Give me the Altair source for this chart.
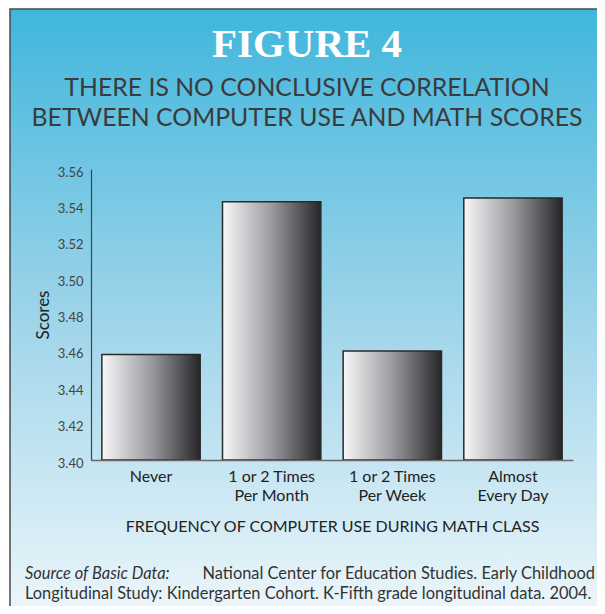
import altair as alt
import pandas as pd

# ---- data ----
categories = ["Never", "1 or 2 Times\nPer Month", "1 or 2 Times\nPer Week", "Almost\nEvery Day"]
scores = [3.458, 3.542, 3.460, 3.544]
y_ticks = [3.40, 3.42, 3.44, 3.46, 3.48, 3.50, 3.52, 3.54, 3.56]
y_domain = [3.40, 3.56]

title_text = "FIGURE 4"
subtitle_lines = ["THERE IS NO CONCLUSIVE CORRELATION", "BETWEEN COMPUTER USE AND MATH SCORES"]
x_title = "FREQUENCY OF COMPUTER USE DURING MATH CLASS"
y_title = "Scores"
source_italic = "Source of Basic Data:"
source_line1 = "National Center for Education Studies. Early Childhood"
source_line2 = "Longitudinal Study: Kindergarten Cohort. K-Fifth grade longitudinal data. 2004."

df = pd.DataFrame({"category": categories, "score": scores})
one = pd.DataFrame({"a": [0]})

SANS = "Lato"
W, H = 482, 291

bg_grad = alt.LinearGradient(
    gradient="linear", x1=0, y1=0, x2=0, y2=1,
    stops=[alt.GradientStop(offset=0, color="#40b6dc"),
           alt.GradientStop(offset=0.5, color="#a0d5ea"),
           alt.GradientStop(offset=1, color="#f3f9fc")])

bar_grad = alt.LinearGradient(
    gradient="linear", x1=0, y1=0, x2=1, y2=0,
    stops=[alt.GradientStop(offset=0, color="#f8f8f9"),
           alt.GradientStop(offset=0.5, color="#9a9ba0"),
           alt.GradientStop(offset=1, color="#262628")])

background = alt.Chart(one).mark_rect(fill=bg_grad, stroke="#4a4a4a", strokeWidth=1.5).encode(
    x=alt.value(-81), x2=alt.value(530), y=alt.value(-160), y2=alt.value(470))

bars = alt.Chart(df).mark_bar(fill=bar_grad, stroke="#2a2a2a", strokeWidth=1.5).encode(
    x=alt.X("category:N", sort=categories,
            scale=alt.Scale(paddingInner=0.185, paddingOuter=0.09),
            axis=alt.Axis(title=x_title, labelExpr="split(datum.label, '\\n')",
                          labelAngle=0, labelFont=SANS, labelFontSize=16, labelColor="#222222",
                          labelLineHeight=19.5, labelPadding=8, ticks=False,
                          domainColor="#6a6a6a", domainWidth=1.5,
                          titleFont=SANS, titleFontSize=16, titleFontWeight="normal",
                          titleColor="#222222", titlePadding=15, zindex=1)),
    y=alt.Y("score:Q", scale=alt.Scale(domain=y_domain, zero=False, nice=False),
            axis=alt.Axis(values=y_ticks, format=".2f", title=y_title, grid=False, ticks=False,
                          labelFont=SANS, labelFontSize=13, labelColor="#444444",
                          labelPadding=8, labelOffset=3,
                          domainColor="#444444", domainWidth=1.2,
                          titleFont=SANS, titleFontSize=17, titleFontWeight="normal",
                          titleColor="#222222", titlePadding=5, zindex=1)),
    y2=alt.datum(3.40),
)

title = alt.Chart(one).mark_text(text=title_text, font="Liberation Serif", fontWeight="bold",
                                 fontSize=41, color="white", baseline="middle", align="center").encode(
    x=alt.value(216), y=alt.value(-124))

sub1 = alt.Chart(one).mark_text(text=subtitle_lines[0], font=SANS, fontSize=24.8, color="#3b3b3b",
                                baseline="middle", align="center").encode(
    x=alt.value(216), y=alt.value(-80))
sub2 = alt.Chart(one).mark_text(text=subtitle_lines[1], font=SANS, fontSize=24.8, color="#3b3b3b",
                                baseline="middle", align="center").encode(
    x=alt.value(216), y=alt.value(-50))

src_i = alt.Chart(one).mark_text(text=source_italic, font=SANS, fontSize=16.4, fontStyle="italic",
                                 color="#333333", baseline="alphabetic", align="left").encode(
    x=alt.value(-66), y=alt.value(410))
src_1 = alt.Chart(one).mark_text(text=source_line1, font=SANS, fontSize=16.4,
                                 color="#333333", baseline="alphabetic", align="right").encode(
    x=alt.value(504), y=alt.value(410))
src_2 = alt.Chart(one).mark_text(text=source_line2, font=SANS, fontSize=16.4,
                                 color="#333333", baseline="alphabetic", align="left").encode(
    x=alt.value(-66), y=alt.value(430))

chart = alt.layer(background, bars, title, sub1, sub2, src_i, src_1, src_2).properties(
    width=W, height=H, autosize="none",
    padding={"left": 83, "top": 161, "right": 24, "bottom": 146},
).configure_view(stroke=None).configure(background="white")

chart.save("out.html", embed_options={"renderer": "svg", "actions": False})
